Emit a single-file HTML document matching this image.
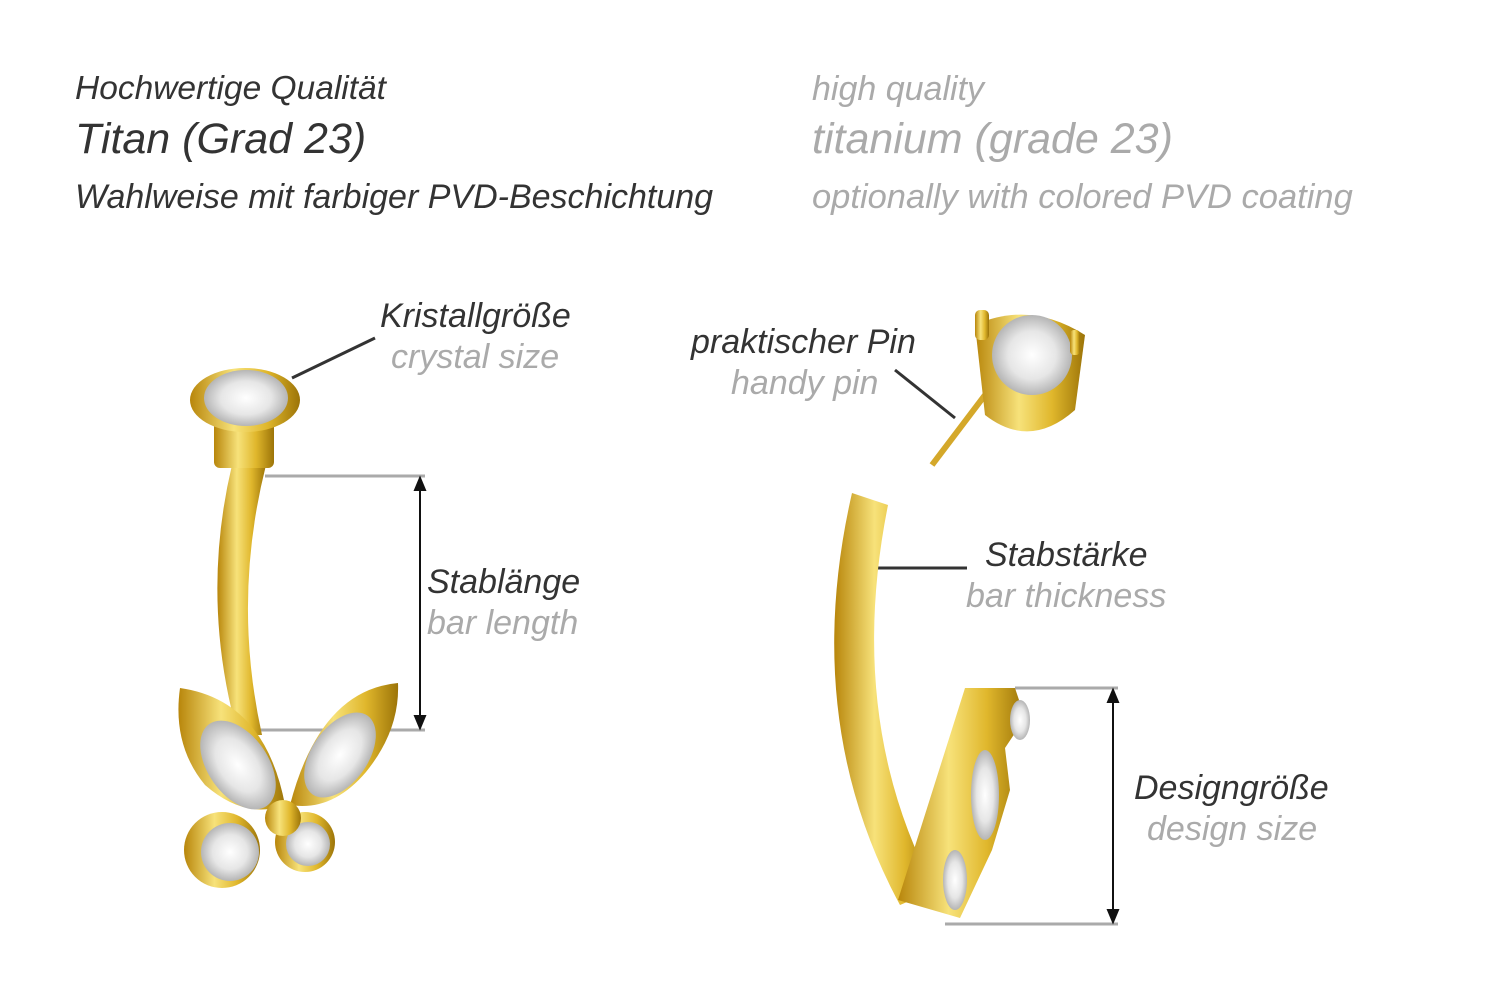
<!DOCTYPE html>
<html><head><meta charset="utf-8"><style>
html,body{margin:0;padding:0;background:#fff;}
body{width:1500px;height:1001px;position:relative;overflow:hidden;font-family:"Liberation Sans",sans-serif;font-style:italic;}
.t{position:absolute;white-space:nowrap;line-height:1;}
.d{color:#333;}.g{color:#aaa;}
</style></head><body>
<div class="t d" style="left:75px;top:72px;font-size:33.5px;">Hochwertige Qualität</div>
<div class="t d" style="left:75px;top:118px;font-size:43px;">Titan (Grad 23)</div>
<div class="t d" style="left:75px;top:180px;font-size:34px;">Wahlweise mit farbiger PVD-Beschichtung</div>
<div class="t g" style="left:812px;top:72px;font-size:34px;">high quality</div>
<div class="t g" style="left:812px;top:118px;font-size:43px;">titanium (grade 23)</div>
<div class="t g" style="left:812px;top:180px;font-size:34.5px;">optionally with colored PVD coating</div>

<div class="t d" style="left:380px;top:299px;font-size:34px;">Kristallgröße</div>
<div class="t g" style="left:391px;top:340px;font-size:34px;">crystal size</div>
<div class="t d" style="left:427px;top:565px;font-size:34px;">Stablänge</div>
<div class="t g" style="left:427px;top:606px;font-size:34px;">bar length</div>
<div class="t d" style="left:691px;top:325px;font-size:34px;">praktischer Pin</div>
<div class="t g" style="left:731px;top:366px;font-size:34px;">handy pin</div>
<div class="t d" style="left:985px;top:538px;font-size:34px;">Stabstärke</div>
<div class="t g" style="left:966px;top:579px;font-size:34px;">bar thickness</div>
<div class="t d" style="left:1134px;top:771px;font-size:34px;">Designgröße</div>
<div class="t g" style="left:1147px;top:812px;font-size:34px;">design size</div>

<svg width="1500" height="1001" style="position:absolute;left:0;top:0">
<defs>
<linearGradient id="gold" x1="0" x2="1"><stop offset="0" stop-color="#b8860b"/><stop offset=".4" stop-color="#f7e27a"/><stop offset=".7" stop-color="#e0b72c"/><stop offset="1" stop-color="#9c7408"/></linearGradient>
<radialGradient id="cr"><stop offset="0" stop-color="#fff"/><stop offset=".6" stop-color="#e6e6e6"/><stop offset="1" stop-color="#b5b5b5"/></radialGradient>
</defs>
<g stroke="#aaa" stroke-width="3"><line x1="265" y1="476" x2="425" y2="476"/><line x1="255" y1="730" x2="425" y2="730"/><line x1="1015" y1="688" x2="1118" y2="688"/><line x1="945" y1="924" x2="1118" y2="924"/></g>
<g stroke="#111" stroke-width="2" fill="#111">
<line x1="420" y1="484" x2="420" y2="722"/><polygon points="420,478 415,490 425,490"/><polygon points="420,728 415,716 425,716"/>
<line x1="1113" y1="696" x2="1113" y2="916"/><polygon points="1113,690 1108,702 1118,702"/><polygon points="1113,922 1108,910 1118,910"/>
</g>
<g stroke="#333" stroke-width="3" fill="none"><polyline points="375,338 292,378"/><line x1="895" y1="370" x2="955" y2="418"/><line x1="875" y1="568" x2="967" y2="568"/></g>
<!-- left bar -->
<path d="M232,465 Q200,600 238,735 L262,735 Q232,600 266,465 Z" fill="url(#gold)"/>
<rect x="214" y="420" width="60" height="48" rx="6" fill="url(#gold)"/>
<ellipse cx="245" cy="400" rx="55" ry="32" fill="url(#gold)"/>
<ellipse cx="246" cy="398" rx="42" ry="28" fill="url(#cr)"/>
<!-- butterfly -->
<path d="M180,688 Q265,700 285,805 Q245,820 205,785 Q172,745 180,688Z" fill="url(#gold)"/>
<ellipse cx="238" cy="765" rx="30" ry="50" transform="rotate(-35 238 765)" fill="url(#cr)"/>
<path d="M398,683 Q320,690 290,805 Q332,812 366,772 Q400,730 398,683Z" fill="url(#gold)"/>
<ellipse cx="340" cy="755" rx="28" ry="48" transform="rotate(35 340 755)" fill="url(#cr)"/>
<circle cx="222" cy="850" r="38" fill="url(#gold)"/><circle cx="230" cy="852" r="29" fill="url(#cr)"/>
<circle cx="305" cy="842" r="30" fill="url(#gold)"/><circle cx="308" cy="844" r="22" fill="url(#cr)"/>
<circle cx="283" cy="818" r="18" fill="url(#gold)"/>
<!-- pin -->
<line x1="932" y1="465" x2="985" y2="395" stroke="#d4a82a" stroke-width="6"/>
<path d="M975,325 Q1030,300 1085,335 L1075,410 Q1030,450 985,415 Z" fill="url(#gold)"/>
<circle cx="1032" cy="355" r="40" fill="url(#cr)"/>
<rect x="975" y="310" width="14" height="30" rx="5" fill="url(#gold)"/>
<rect x="1070" y="330" width="10" height="25" rx="4" fill="url(#gold)"/>
<!-- right bar -->
<path d="M852,493 Q800,720 900,905 L935,890 Q845,720 888,505 Z" fill="url(#gold)"/>
<path d="M965,688 L1015,688 L1025,718 L1005,748 L1010,790 L992,850 L960,918 L898,900 Z" fill="url(#gold)"/>
<ellipse cx="985" cy="795" rx="14" ry="45" fill="url(#cr)"/>
<ellipse cx="955" cy="880" rx="12" ry="30" fill="url(#cr)"/>
<ellipse cx="1020" cy="720" rx="10" ry="20" fill="url(#cr)"/>
</svg>
</body></html>
